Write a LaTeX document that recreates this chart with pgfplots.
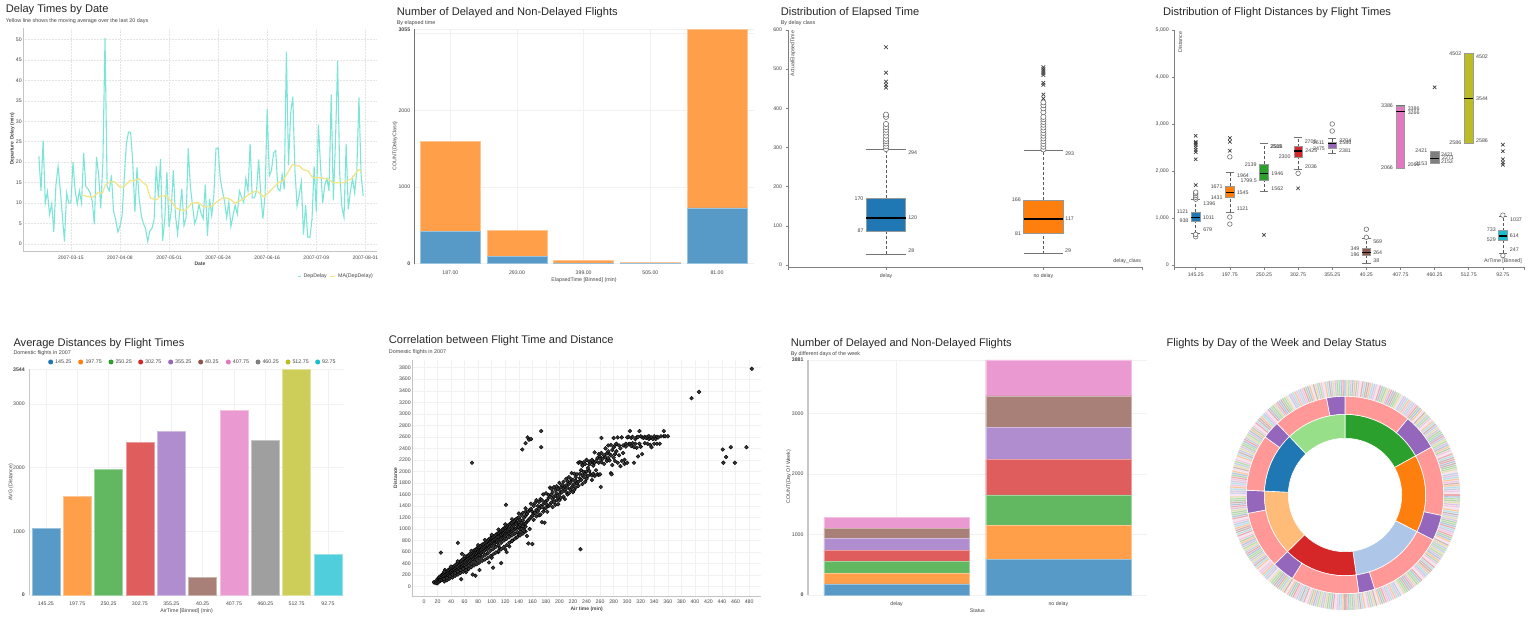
\documentclass[border=0pt]{standalone}
\usepackage{fontspec}
\setmainfont{Liberation Sans}
\usepackage{pgfplots}
\usepackage{pgfplotstable}
\pgfplotsset{compat=1.18}
\definecolor{tb}{HTML}{1F77B4}\definecolor{to}{HTML}{FF7F0E}\definecolor{tg}{HTML}{2CA02C}\definecolor{tr}{HTML}{D62728}
\definecolor{tp}{HTML}{9467BD}\definecolor{tn}{HTML}{8C564B}\definecolor{tk}{HTML}{E377C2}\definecolor{ty}{HTML}{7F7F7F}
\definecolor{tl}{HTML}{BCBD22}\definecolor{tc}{HTML}{17BECF}
\definecolor{ab}{HTML}{5799C7}\definecolor{ao}{HTML}{FF9F4A}\definecolor{ag}{HTML}{61B861}\definecolor{ar}{HTML}{E05D5E}
\definecolor{ap}{HTML}{AF8DCE}\definecolor{an}{HTML}{A98078}\definecolor{ak}{HTML}{EA99D1}\definecolor{ay}{HTML}{9F9F9F}
\definecolor{al}{HTML}{CDCE59}\definecolor{ac}{HTML}{51CEDB}
\definecolor{labelgray}{HTML}{444444}\definecolor{gridc}{HTML}{F1F1F1}\definecolor{gridd}{HTML}{E4E4E4}\definecolor{axc}{HTML}{C4C4C4}
\definecolor{depc}{HTML}{7CE5D7}\definecolor{mac}{HTML}{F1E48C}
\definecolor{ltb}{HTML}{AEC7E8}\definecolor{lto}{HTML}{FFBB78}\definecolor{ltg}{HTML}{98DF8A}\definecolor{ltr}{HTML}{FF9896}
\definecolor{ringbase}{HTML}{F3E9EE}
\pgfplotsset{
  tick label style={font=\fontsize{5.2}{6}\selectfont,text=labelgray},
  scale only axis, clip=false, scaled ticks=false,
  /pgf/number format/1000 sep={},
  /pgf/number format/assume math mode=true,
  major tick length=0pt,
  grid style={gridc,line width=.5pt},
  anchor=south west,
  plainaxis/.style={axis x line=bottom,axis y line=left,axis line style={-,axc,line width=.7pt},
     xticklabel style={yshift=-.5pt},yticklabel style={xshift=2pt}},
  nobottom/.style={axis x line=bottom,axis y line=left,
     x axis line style={draw=none},xticklabel style={yshift=-3.5pt},yticklabel style={xshift=-1pt}},
}
\def\OX{0}\def\OY{0}
\newcommand\lab[4][]{\node[inner sep=0pt,text=labelgray,font=\fontsize{5.3}{6}\selectfont,#1] at ({(\OX+#2/3)*1pt},{(637-\OY-#3/3)*1pt}) {#4};}
\newcommand\ttl[3]{\node[inner sep=0pt,anchor=west,text=black!85,font=\fontsize{11.1}{13}\selectfont] at ({(\OX+#1/3)*1pt},{(637-\OY-#2/3)*1pt}) {#3};}
\newcommand\sub[3]{\node[inner sep=0pt,anchor=west,text=labelgray,font=\fontsize{5.4}{6}\selectfont] at ({(\OX+#1/3)*1pt},{(637-\OY-#2/3)*1pt}) {#3};}
% box plot element: pos, half width, low whisker, q1, median, q3, high whisker, colour
\newcommand\Bx[8]{%
  \pgfmathsetmacro\lo{#1-#2}\pgfmathsetmacro\hi{#1+#2}%
  \addplot[black!65,densely dashed,line width=.5pt] coordinates {(#1,#3)(#1,#4)};
  \addplot[black!65,densely dashed,line width=.5pt] coordinates {(#1,#6)(#1,#7)};
  \addplot[black!55,line width=.7pt] coordinates {(\lo,#3)(\hi,#3)};
  \addplot[black!55,line width=.7pt] coordinates {(\lo,#7)(\hi,#7)};
  \addplot[fill=#8,draw=black!40,line width=.6pt] coordinates {(\lo,#4)(\hi,#4)(\hi,#6)(\lo,#6)} -- cycle;
  \addplot[black,line width=1.3pt] coordinates {(\lo,#5)(\hi,#5)};
}
% sunburst wedge: start angle, end angle (clockwise from top), inner r, outer r, colour
\newcount\wi
\newcommand\Wedge[5]{%
  \def\wc{}\pgfmathsetmacro\wstep{(#2-#1)/20}%
  \wi=0 \loop\ifnum\wi<21
    \pgfmathsetmacro\wa{#1+\wstep*\wi}\pgfmathsetmacro\wx{#4*sin(\wa)}\pgfmathsetmacro\wy{#4*cos(\wa)}%
    \edef\wc{\wc(\wx,\wy) }\advance\wi by 1
  \repeat
  \wi=20 \loop\ifnum\wi>-1
    \pgfmathsetmacro\wa{#1+\wstep*\wi}\pgfmathsetmacro\wx{#3*sin(\wa)}\pgfmathsetmacro\wy{#3*cos(\wa)}%
    \edef\wc{\wc(\wx,\wy) }\advance\wi by -1
  \repeat
  \edef\doit{\noexpand\addplot[fill=#5,draw=white,line width=.6pt] coordinates {\wc} -- cycle;}\doit
}
\newcommand\Stripe[3]{\addplot[#2,line width=#3,opacity=.72,quiver={u={16*sin(\thisrow{#1})},v={16*cos(\thisrow{#1})}}] table[x expr={99.2*sin(\thisrow{#1})},y expr={99.2*cos(\thisrow{#1})}] {\ringdata};}

\pgfplotstableread{
day dep
-15 21.5
-14 13
-13 25.3
-12 10
-11 12.8
-10 7.2
-9 9.8
-8 3
-7 14.5
-6 19
-5 13.5
-4 7
-3 0.6
-2 12.5
-1 10
0 10
1 20
2 13
3 9.8
4 13
5 10
6 22.3
7 14
8 13.5
9 12.5
10 10.5
11 4.8
12 21.3
13 17
14 8.7
15 20
16 50.3
17 14
18 13
19 16.8
20 8
21 6
22 3
23 4.3
24 7
25 16
26 24.5
27 27.4
28 27.3
29 20
30 7.8
31 18.7
32 11
33 7
34 5
35 3.8
36 0.6
37 3.2
38 3.8
39 6
40 19
41 11.5
42 20.8
43 0.8
44 6
45 17.6
46 4.2
47 8
48 18
49 7
50 2.5
51 8
52 13.5
53 4.5
54 6.5
55 23.4
56 14
57 9.5
58 5
59 6.5
60 9.7
61 7.5
62 6.2
63 14.5
64 2
65 11
66 7
67 12
68 23.3
69 23.5
70 16
71 13
72 10.5
73 6.5
74 10.3
75 4.3
76 7
77 9.5
78 7.3
79 13
80 11.5
81 10.2
82 16
83 13
84 24.5
85 11.3
86 11.3
87 13
88 20.7
89 12
90 6.2
91 12
92 33
93 16.7
94 18
95 22.3
96 22.8
97 13.5
98 13
99 17
100 13.4
101 47
102 19.3
103 32
104 36
105 18
106 9.3
107 12
108 15.2
109 2.3
110 9.5
111 1.7
112 1.6
113 6
114 19
115 8
116 29.2
117 19
118 10
119 14.5
120 16
121 13
122 36.5
123 10.7
124 25
125 44.8
126 17
127 9
128 6.5
129 24.5
130 8.5
131 13
132 16
133 12.5
134 18
135 35.8
136 17
137 11.7
}\depdata
\pgfplotstableread{
c0 c1 c2 c3 c4 c5 c6 c7 c8 c9 c10 c11
0 5 2 9 3 11 7 1 10 4 8 6
15 13 20 18 23 12 16 22 14 19 17 21
31 34 28 24 32 26 35 29 33 25 30 27
46 42 47 39 37 44 38 45 36 41 43 40
53 50 57 59 55 52 48 54 51 58 49 56
60 65 62 69 63 71 67 61 70 64 68 66
79 82 76 72 80 74 83 77 81 73 78 75
87 85 92 90 95 84 88 94 86 91 89 93
101 98 105 107 103 100 96 102 99 106 97 104
118 114 119 111 109 116 110 117 108 113 115 112
120 125 122 129 123 131 127 121 130 124 128 126
135 133 140 138 143 132 136 142 134 139 137 141
151 154 148 144 152 146 155 149 153 145 150 147
166 162 167 159 157 164 158 165 156 161 163 160
173 170 177 179 175 172 168 174 171 178 169 176
183 181 188 186 191 180 184 190 182 187 185 189
192 197 194 201 195 203 199 193 202 196 200 198
214 210 215 207 205 212 206 213 204 209 211 208
223 226 220 216 224 218 227 221 225 217 222 219
233 230 237 239 235 232 228 234 231 238 229 236
240 245 242 249 243 251 247 241 250 244 248 246
255 253 260 258 263 252 256 262 254 259 257 261
271 274 268 264 272 266 275 269 273 265 270 267
286 282 287 279 277 284 278 285 276 281 283 280
293 290 297 299 295 292 288 294 291 298 289 296
300 305 302 309 303 311 307 301 310 304 308 306
315 313 320 318 323 312 316 322 314 319 317 321
331 334 328 324 332 326 335 329 333 325 330 327
346 342 347 339 337 344 338 345 336 341 343 340
353 350 357 359 355 352 348 354 351 358 349 356
}\ringdata

\begin{document}
\begin{tikzpicture}[x=1pt,y=1pt]
\useasboundingbox (0,0) rectangle (1536pt,637pt);

%% ---------- 1 Delay Times by Date
\begin{axis}[at={(23.3pt,385.3pt)},width=354pt,height=223.3pt,plainaxis,
  xmin=-22.3,xmax=143.6,ymin=-1.87,ymax=52.7,grid=major,
  grid style={gridd,densely dotted,line width=.5pt},
  xtick={0,23,46,69,92,115,138},
  xticklabels={2007-03-15,2007-04-08,2007-05-01,2007-05-24,2007-06-16,2007-07-09,2007-08-01},
  xticklabel style={font=\fontsize{5}{6}\selectfont},
  ytick={0,5,...,50}]
\addplot[depc,line width=1.1pt] table[x=day,y=dep] {\depdata};
\addplot[mac,line width=1.3pt] coordinates {(5.5,12)(7.7,11.6)(10.5,11.5)(12.8,12.6)(14.8,12.5)(16,14.3)(18.3,15.2)(20.6,15.2)(23,13.9)(24.8,14)(27.7,15.5)(29.7,15.5)(31.9,16)(33.9,15)(35.5,14.3)(37.3,11.2)(40.2,10.8)(41.7,11.7)(44.8,11.8)(47.2,10.3)(49.5,8.7)(53.4,8.1)(56.6,10)(59.7,10.1)(62.3,9.1)(65.9,9.2)(68.3,10.3)(71.4,11.4)(74.5,11)(76.9,10)(80.8,11)(83.9,12.3)(87,13)(90.6,11.5)(94,13.3)(97.2,15)(99.5,15.5)(101.1,17)(103.9,19.4)(107.3,19)(108.9,18.2)(111.3,17.8)(113.3,16.2)(116.7,16.2)(120.6,15.9)(123,15)(127.7,15)(131.6,16)(134.7,18.2)(136.3,17.8)};
\end{axis}
\def\OX{0}\def\OY{0}
\ttl{17}{30}{Delay Times by Date}
\sub{17}{64}{Yellow line shows the moving average over the last 20 days}
\lab[font=\fontsize{5}{6}\bfseries]{600}{792}{Date}
\lab[font=\fontsize{5}{6}\bfseries,rotate=90]{37}{417}{Departure Delay (min)}
\draw[depc,line width=1pt] (297.5pt,360.9pt) -- (301pt,360.9pt);
\lab[anchor=west]{910}{828}{DepDelay}
\draw[mac,line width=1pt] (330pt,360.9pt) -- (335pt,360.9pt);
\lab[anchor=west]{1014}{828}{MA(DepDelay)}

%% ---------- 2 Stacked by elapsed time
\begin{axis}[at={(414.7pt,373.3pt)},width=339.3pt,height=234.4pt,nobottom,
  axis y line*=left,y axis line style={-,black!55,line width=.7pt},
  ybar stacked,bar width=60pt,
  xmin=-0.535,xmax=4.555,ymin=0,ymax=3055,grid=major,
  xtick={0,1,2,3,4},xticklabels={187.00,293.00,399.00,505.00,81.00},
  ytick={0,1000,2000,3000,3055},yticklabels={\textbf{0},1000,2000,,\textbf{3055}}]
\addplot[fill=ab,draw=ab!60,line width=.4pt] coordinates {(0,425)(1,100)(2,5)(3,1)(4,729)};
\addplot[fill=ao,draw=ao!60,line width=.4pt] coordinates {(0,1171)(1,338)(2,43)(3,12)(4,2326)};
\end{axis}
\def\OX{384}\def\OY{0}
\ttl{38}{37}{Number of Delayed and Non-Delayed Flights}
\sub{38}{68}{By elapsed time}
\lab{600}{840}{ElapsedTime [Binned] (min)}
\lab[rotate=90]{33}{438}{COUNT(DelayClass)}

%% ---------- 3 Boxplot elapsed
\begin{axis}[at={(788pt,369.7pt)},width=354pt,height=237.3pt,
  axis x line=bottom,axis y line=left,axis line style={-,black!50,line width=.6pt},tick style={black!50,line width=.5pt},
  tick align=outside,major tick length=2.5pt,
  xmin=-0.623,xmax=1.627,ymin=-6,ymax=600,
  xtick={-0.623,0,1,1.627},xticklabels={,delay,no delay,},
  ytick={0,100,...,600}]
\Bx{0}{0.125}{28}{87}{120}{170}{294}{tb}
\Bx{1}{0.125}{29}{81}{117}{166}{293}{to}
\addplot[only marks,mark=*,mark size=2.6pt,mark options={fill=white,draw=black!60,line width=.55pt}] coordinates {(0,296)(0,303)(0,310)(0,316)(0,322)(0,330)(0,338)(0,345)(0,352)(0,360)(0,378)(0,384)
 (1,295)(1,302)(1,309)(1,316)(1,323)(1,330)(1,337)(1,344)(1,351)(1,358)(1,365)(1,372)(1,378)(1,390)(1,400)(1,408)(1,415)};
\addplot[only marks,mark=x,mark size=2.6pt,mark options={black!75,line width=.7pt}] coordinates {(0,453)(0,460)(0,468)(0,491)(0,556)
 (1,425)(1,435)(1,460)(1,465)(1,485)(1,490)(1,495)(1,500)(1,505)};
\end{axis}
\def\OX{768}\def\OY{0}
\ttl{38}{37}{Distribution of Elapsed Time}
\sub{38}{68}{By delay class}
\lab[rotate=90,anchor=east]{75}{92}{ActualElapsedTime}
\lab[anchor=east]{1120}{782}{delay\_class}
\lab{434}{459}{294}\lab{273}{597}{170}\lab{278}{692}{87}\lab{434}{654}{120}\lab{430}{753}{28}
\lab{905}{461}{293}\lab{745}{600}{166}\lab{750}{700}{81}\lab{905}{657}{117}\lab{900}{753}{29}

%% ---------- 4 Boxplot distances
\begin{axis}[at={(1174.7pt,369.7pt)},width=350pt,height=237.3pt,
  axis x line=bottom,axis y line=left,axis line style={-,black!50,line width=.6pt},tick style={black!50,line width=.5pt},
  tick align=outside,major tick length=2.5pt,
  xmin=-0.615,xmax=9.64,ymin=-50,ymax=5000,
  xtick={-0.615,0,1,2,3,4,5,6,7,8,9,9.64},xticklabels={,145.25,197.75,250.25,302.75,355.25,40.25,407.75,460.25,512.75,92.75,},
  ytick={0,1000,2000,3000,4000,5000},yticklabels={0,{1,000},{2,000},{3,000},{4,000},{5,000}}]
\Bx{0}{0.125}{679}{938}{1011}{1121}{1396}{tb}
\Bx{1}{0.125}{1121}{1431}{1545}{1671}{1964}{to}
\Bx{2}{0.125}{1562}{1799.5}{1946}{2139}{2585}{tg}
\Bx{3}{0.125}{2036}{2300}{2425}{2518}{2706}{tr}
\Bx{4}{0.125}{2381}{2475}{2586}{2611}{2704}{tp}
\Bx{5}{0.125}{38}{196}{264}{349}{569}{tn}
\Bx{6}{0.125}{2066}{2066}{3266}{3386}{3386}{tk}
\Bx{7}{0.125}{2153}{2153}{2271}{2421}{2421}{ty}
\Bx{8}{0.125}{2586}{2586}{3544}{4502}{4502}{tl}
\Bx{9}{0.125}{247}{529}{614}{733}{1037}{tc}
\addplot[only marks,mark=*,mark size=2.3pt,mark options={fill=white,draw=black!60,line width=.55pt}] coordinates {(0,1400)(0,1440)(0,1480)(0,1520)(0,1550)(0,600)(0,650)
 (1,2300)(1,1020)(1,870)(3,1950)(4,2850)(4,3000)(5,590)(5,760)(9,1060)(9,200)};
\addplot[only marks,mark=x,mark size=2.4pt,mark options={black!75,line width=.7pt}] coordinates {(0,1700)(0,2250)(0,2400)(0,2450)(0,2500)(0,2550)(0,2580)(0,2600)(0,2620)(0,2750)
 (1,2430)(1,2620)(1,2700)(2,640)(3,1630)(7,3780)(9,2130)(9,2180)(9,2250)(9,2420)(9,2560)};
\end{axis}
\def\OX{1152}\def\OY{0}
\ttl{33}{37}{Distribution of Flight Distances by Flight Times}
\lab[rotate=90]{85}{127}{Distance}
\lab{1053}{782}{ArTime [Binned]}
\lab{92}{636}{1121}\lab{96}{662}{938}\lab{170}{652}{1011}\lab{172}{610}{1396}\lab{167}{690}{679}
\lab{194}{561}{1671}\lab{194}{594}{1431}\lab{272}{578}{1545}\lab{273}{528}{1964}\lab{290}{541}{1799.5}\lab{272}{627}{1121}
\lab{296}{495}{2139}\lab{376}{521}{1946}\lab{376}{565}{1562}\lab{374}{440}{2518}\lab{372}{441}{2585}
\lab{398}{470}{2300}\lab{478}{453}{2425}\lab{477}{500}{2036}\lab{476}{425}{2706}\lab{501}{445}{2475}\lab{500}{427}{2611}
\lab{580}{427}{2586}\lab{580}{423}{2704}\lab{579}{451}{2381}
\lab{609}{745}{349}\lab{609}{765}{196}\lab{677}{758}{264}\lab{677}{724}{569}\lab{673}{782}{38}
\lab{705}{318}{3386}\lab{785}{327}{3386}\lab{785}{337}{3266}\lab{705}{503}{2066}\lab{785}{495}{2066}
\lab{808}{453}{2421}\lab{885}{464}{2421}\lab{888}{474}{2271}\lab{885}{484}{2153}\lab{808}{492}{2153}
\lab{910}{162}{4502}\lab{990}{171}{4502}\lab{990}{297}{3544}\lab{910}{429}{2586}\lab{990}{422}{2586}
\lab{1018}{690}{733}\lab{1018}{718}{529}\lab{1087}{708}{614}\lab{1092}{659}{1037}\lab{1087}{750}{247}

%% ---------- 5 Average distances
\begin{axis}[at={(29.3pt,42pt)},width=315pt,height=225.7pt,nobottom,
  axis y line*=left,y axis line style={-,black!22,line width=1.4pt},
  ybar,bar width=28pt,bar shift=0pt,
  xmin=-0.53,xmax=9.52,ymin=0,ymax=3544,grid=major,
  xtick={0,...,9},xticklabels={145.25,197.75,250.25,302.75,355.25,40.25,407.75,460.25,512.75,92.75},
  ytick={0,1000,2000,3000,3544},yticklabels={\textbf{0},1000,2000,3000,\textbf{3544}}]
\addplot[fill=ab,draw=ab!60,line width=.4pt] coordinates {(0,1047)};
\addplot[fill=ao,draw=ao!60,line width=.4pt] coordinates {(1,1555)};
\addplot[fill=ag,draw=ag!60,line width=.4pt] coordinates {(2,1969)};
\addplot[fill=ar,draw=ar!60,line width=.4pt] coordinates {(3,2403)};
\addplot[fill=ap,draw=ap!60,line width=.4pt] coordinates {(4,2576)};
\addplot[fill=an,draw=an!60,line width=.4pt] coordinates {(5,272)};
\addplot[fill=ak,draw=ak!60,line width=.4pt] coordinates {(6,2906)};
\addplot[fill=ay,draw=ay!60,line width=.4pt] coordinates {(7,2429)};
\addplot[fill=al,draw=al!60,line width=.4pt] coordinates {(8,3544)};
\addplot[fill=ac,draw=ac!60,line width=.4pt] coordinates {(9,639)};
\end{axis}
\def\OX{0}\def\OY{330}
\ttl{40}{41}{Average Distances by Flight Times}
\sub{40}{70}{Domestic flights in 2007}
\lab{560}{842}{AirTime [Binned] (min)}
\lab[rotate=90]{33}{457}{AVG (Distance)}
\foreach \cx/\tx/\c/\s in {152/165/tb/145.25,242/256/to/197.75,333/346/tg/250.25,422/435/tr/302.75,512/525/tp/355.25,602/615/tn/40.25,685/698/tk/407.75,774/787/ty/460.25,864/877/tl/512.75,953/966/tc/92.75}{
  \fill[\c] ({(\cx/3)*1pt},{(637-330-96/3)*1pt}) circle (2.5pt);
  \lab[anchor=west]{\tx}{96}{\s}
}

%% ---------- 6 Scatter
\begin{axis}[at={(412.3pt,41pt)},width=349pt,height=236pt,plainaxis,
  xmin=-17.2,xmax=498,ymin=-162,ymax=3933,grid=major,
  grid style={gridc,line width=.4pt},
  xtick={0,20,...,480},ytick={0,200,...,3800}]
\addplot[only marks,mark=*,mark size=1.9pt,mark options={draw=none,fill=black!78}] coordinates {
(25,590)(50,760)(56,570)(71,2150)(121,1420)(145,2380)(150,2490)(153,2590)(155,2550)(158,2560)(173,2700)(173,2420)(231,650)(395,3270)(406,3380)(484,3780)(441,2380)(442,2150)(446,2250)(453,2420)(459,2150)(476,2420)(262,2580)
(15,70)(15,80)(18,75)(18,100)(18,60)(20,60)(20,90)(20,130)(22,90)(22,130)(22,160)(24,100)(24,140)(24,180)(24,120)(26,120)(26,160)(26,200)(28,140)(28,180)(28,220)(31,290)(30,160)(30,190)(30,230)
(32,170)(32,210)(32,250)(34,180)(34,230)(34,270)(36,190)(36,240)(36,290)(38,210)(38,250)(38,310)(40,220)(40,260)(40,320)(42,240)(42,280)(42,340)(44,250)(44,300)(44,350)(46,270)(46,320)(46,370)(48,280)(48,340)(48,390)
(50,300)(50,350)(50,410)(52,310)(52,370)(52,430)(54,330)(54,390)(54,440)(55,130)(56,350)(56,400)(56,460)(58,370)(58,420)(58,480)(60,380)(60,430)(60,500)(62,250)(62,400)(62,450)(62,520)(64,420)(64,470)(64,530)(66,430)(66,490)(66,550)(65,300)
(68,450)(68,510)(68,570)(70,470)(70,520)(70,590)(72,210)(72,480)(72,540)(72,610)(74,500)(74,560)(74,630)(76,190)(76,510)(76,570)(76,640)(78,530)(78,590)(78,660)(80,550)(80,610)(80,680)(80,720)(82,290)(82,560)(82,630)(82,690)(84,580)(84,640)(84,710)(86,600)(86,660)(86,730)(88,610)(88,680)(88,740)
(90,630)(90,700)(90,760)(92,650)(92,720)(92,780)(96,420)(94,660)(94,730)(94,800)(96,680)(96,750)(96,820)(98,700)(98,770)(98,840)(100,710)(100,790)(100,850)(100,500)(102,730)(102,800)(102,860)(102,330)(104,750)(104,820)(104,880)(106,770)(106,840)(106,900)(108,780)(108,860)(108,920)
(110,800)(110,870)(110,930)(110,600)(112,820)(112,890)(112,950)(112,670)(114,830)(114,900)(114,970)(116,850)(116,920)(116,990)(114,410)(118,870)(118,940)(118,1010)(120,880)(120,960)(120,1020)(120,650)(122,900)(122,970)(122,1040)(122,600)(124,920)(124,990)(124,1060)(126,930)(126,1000)(126,1080)(126,700)(128,950)(128,1020)(128,1100)
(130,960)(130,1040)(130,1110)(130,800)(132,980)(132,1060)(132,1130)(134,1000)(134,1080)(134,1150)(136,1010)(136,1090)(136,1170)(136,850)(138,1030)(138,1110)(138,1190)(140,1040)(140,1120)(140,1200)(140,900)
(30,90)(30,130)(34,110)(34,150)(38,140)(38,180)(42,160)(42,210)(46,190)(46,235)(50,210)(50,260)(54,240)(54,290)(58,260)(58,310)(62,290)(62,340)(66,310)(66,370)(70,340)(70,400)(74,370)(74,430)(78,390)(78,460)(82,420)(82,490)(86,450)(86,520)(90,470)(90,550)(94,500)(94,580)(98,530)(98,620)(102,560)(102,650)(106,590)(106,690)(110,620)(110,720)(114,650)(114,760)(118,690)(118,800)(122,720)(122,830)(126,760)(126,860)(130,790)(130,890)(134,830)(134,920)(138,860)(138,950)(142,890)(142,1000)(146,920)(146,1010)(150,960)(150,1040)
(30,260)(40,350)(50,440)(60,530)(70,620)(90,810)(100,900)(110,990)(120,1080)(130,1170)(140,1270)(150,1360)
(142,1070)(142,1160)(142,950)(144,1000)(144,1100)(144,1240)(146,1050)(146,1150)(146,1280)(148,960)(148,1090)(148,1200)(150,1100)(150,1230)(150,1300)(152,880)(152,1130)(152,1260)(154,1150)(154,1300)(154,750)(156,1000)(156,1180)(156,1330)(158,1200)(158,1350)(158,1440)(160,740)(160,1230)(160,1300)
(162,1160)(162,1270)(162,1400)(164,1280)(164,1450)(166,1220)(166,1330)(166,1500)(168,1300)(168,1400)(170,1350)(170,1470)(170,1240)(172,1250)(172,1400)(172,1520)(174,1120)(174,1380)(174,1500)(176,1430)(176,1300)(176,1600)(178,1110)(178,1460)(178,1350)(180,1370)(180,1480)(180,1620)
(182,1300)(182,1500)(182,1420)(184,1400)(184,1540)(184,1590)(186,1420)(186,1560)(186,1720)(188,1460)(188,1600)(188,1700)(190,1380)(190,1520)(190,1640)(192,1470)(192,1560)(192,1730)(194,1420)(194,1580)(194,1680)(196,1500)(196,1620)(196,1740)(198,1430)(198,1550)(198,1690)(200,1500)(200,1600)(200,1800)
(202,1540)(202,1650)(202,1720)(204,1640)(204,1760)(206,1560)(206,1700)(206,1820)(208,1520)(208,1680)(208,1740)(210,1640)(210,1760)(210,1870)(212,1600)(212,1720)(212,1830)(214,1620)(214,1780)(214,1900)(216,1680)(216,1810)(218,1720)(218,1860)(218,1970)(220,1640)(220,1760)(220,1850)
(222,1780)(222,1960)(222,1680)(224,1720)(224,1840)(224,1900)(226,1800)(226,1950)(228,1820)(228,1750)(228,2150)(230,1880)(230,1960)(230,2160)(232,1850)(232,2020)(232,2150)(234,1780)(234,1930)(234,2100)(236,1900)(236,1990)(236,2160)(238,1820)(238,1960)(238,2130)(240,1870)(240,2000)(240,2200)
(242,1920)(242,2060)(244,2010)(244,2120)(244,2170)(246,1950)(246,2150)(248,1850)(248,1930)(248,2200)(250,1960)(250,2100)(250,2160)(252,1920)(252,2150)(252,2330)(254,2020)(254,2180)(256,1950)(256,2230)(261,1730)(258,1940)(258,2150)(258,2300)(260,1950)(260,2250)(260,2220)
(262,2160)(262,2320)(264,2220)(266,2130)(266,2280)(268,2240)(268,2400)(270,2180)(270,2310)(276,1970)(272,2230)(272,2350)(272,2450)(274,2190)(274,2300)(277,1950)(276,2460)(276,2280)(278,2110)(278,2370)(280,2240)(280,2420)(280,2580)(282,2180)(282,2300)(282,2450)(284,2350)(284,2480)(286,2150)(286,2590)
(288,2450)(288,2280)(290,2090)(290,2400)(292,2590)(292,2180)(294,2450)(294,2320)(296,2200)(296,2130)(298,2480)(298,2430)(300,2590)(300,2150)(302,2600)(302,2470)(304,2700)(304,2480)(306,2580)(306,2440)(308,2600)(308,2490)(310,2150)(310,2420)(312,2560)(312,2480)(314,2410)(314,2590)(316,2260)(316,2600)
(318,2700)(318,2480)(320,2610)(320,2430)(322,2300)(322,2590)(324,2580)(326,2490)(326,2600)(328,2580)(330,2600)(330,2480)(332,2610)(332,2560)(334,2580)(334,2460)(336,2590)(336,2420)(338,2560)(340,2480)(340,2610)(342,2560)(344,2480)(344,2600)(346,2590)(348,2480)(350,2610)(354,2700)(354,2610)(356,2610)(360,2610)
};
\end{axis}
\def\OX{384}\def\OY{330}
\ttl{14}{33}{Correlation between Flight Time and Distance}
\sub{14}{67}{Domestic flights in 2007}
\lab[font=\fontsize{5}{6}\bfseries]{608}{838}{Air time (min)}
\lab[font=\fontsize{5}{6}\bfseries,rotate=90]{34}{443}{Distance}

%% ---------- 7 Stacked by day of week
\begin{axis}[at={(808pt,42pt)},width=339.3pt,height=235pt,nobottom,
  axis y line*=left,y axis line style={-,black!22,line width=1.6pt},
  ybar stacked,bar width=145.3pt,
  xmin=-0.548,xmax=1.55,ymin=0,ymax=3881,grid=major,
  xtick={0,1},xticklabels={delay,no delay},
  ytick={0,1000,2000,3000,3881},yticklabels={\textbf{0},1000,2000,3000,\textbf{3881}}]
\addplot[fill=ab,draw=ab!60,line width=.3pt] coordinates {(0,182)(1,584)};
\addplot[fill=ao,draw=ao!60,line width=.3pt] coordinates {(0,181)(1,567)};
\addplot[fill=ag,draw=ag!60,line width=.3pt] coordinates {(0,188)(1,501)};
\addplot[fill=ar,draw=ar!60,line width=.3pt] coordinates {(0,192)(1,584)};
\addplot[fill=ap,draw=ap!60,line width=.3pt] coordinates {(0,193)(1,534)};
\addplot[fill=an,draw=an!60,line width=.3pt] coordinates {(0,165)(1,517)};
\addplot[fill=ak,draw=ak!60,line width=.3pt] coordinates {(0,187)(1,594)};
\end{axis}
\def\OX{768}\def\OY{330}
\ttl{68}{41}{Number of Delayed and Non-Delayed Flights}
\sub{68}{71}{By different days of the week}
\lab{628}{843}{Status}
\lab[rotate=90]{62}{440}{COUNT(Day Of Week)}

%% ---------- 8 Sunburst
\begin{axis}[at={(1345pt,142pt)},anchor=center,width=240pt,height=240pt,hide axis,
  xmin=-120,xmax=120,ymin=-120,ymax=120]
\Wedge{0}{90}{98.7}{115.2}{ringbase}
\Wedge{90}{180}{98.7}{115.2}{ringbase}
\Wedge{180}{270}{98.7}{115.2}{ringbase}
\Wedge{270}{360}{98.7}{115.2}{ringbase}
\Stripe{c0}{ltb}{1.1pt}
\Stripe{c1}{lto}{1.1pt}
\Stripe{c2}{ltg}{1.1pt}
\Stripe{c3}{tr!50}{1.1pt}
\Stripe{c4}{tp!45}{1.1pt}
\Stripe{c5}{tn!55}{1.1pt}
\Stripe{c6}{tk!50}{1.1pt}
\Stripe{c7}{tl!50}{1.1pt}
\Stripe{c8}{tc!45}{1.1pt}
\Stripe{c9}{tb!50}{1.1pt}
\Stripe{c10}{tk!22}{1.1pt}
\Stripe{c11}{tg!50}{1.1pt}
\Wedge{0}{61}{56.7}{80.7}{tg}
\Wedge{61}{117}{56.7}{80.7}{to}
\Wedge{117}{172}{56.7}{80.7}{ltb}
\Wedge{172}{225.5}{56.7}{80.7}{tr}
\Wedge{225.5}{272.8}{56.7}{80.7}{lto}
\Wedge{272.8}{316.5}{56.7}{80.7}{tb}
\Wedge{316.5}{360}{56.7}{80.7}{ltg}
\Wedge{0}{39.5}{80.7}{98.7}{ltr}
\Wedge{39.5}{61}{80.7}{98.7}{tp}
\Wedge{61}{102}{80.7}{98.7}{ltr}
\Wedge{102}{117}{80.7}{98.7}{tp}
\Wedge{117}{162.5}{80.7}{98.7}{ltr}
\Wedge{162.5}{172}{80.7}{98.7}{tp}
\Wedge{172}{212.3}{80.7}{98.7}{ltr}
\Wedge{212.3}{225.5}{80.7}{98.7}{tp}
\Wedge{225.5}{259.3}{80.7}{98.7}{ltr}
\Wedge{259.3}{272.8}{80.7}{98.7}{tp}
\Wedge{272.8}{306}{80.7}{98.7}{ltr}
\Wedge{306}{316.5}{80.7}{98.7}{tp}
\Wedge{316.5}{349.2}{80.7}{98.7}{ltr}
\Wedge{349.2}{360}{80.7}{98.7}{tp}
\end{axis}
\def\OX{1152}\def\OY{330}
\ttl{43}{41}{Flights by Day of the Week and Delay Status}
\end{tikzpicture}
\end{document}
